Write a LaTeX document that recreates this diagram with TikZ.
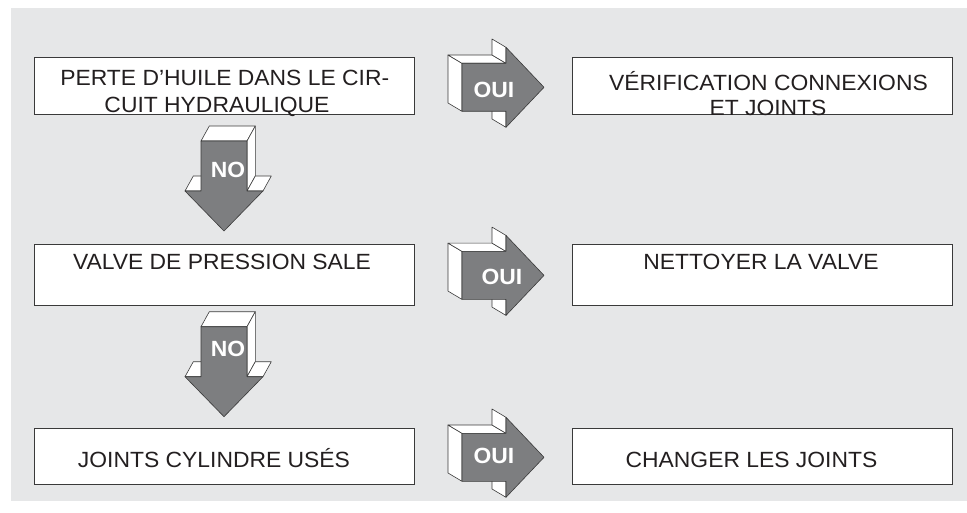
\documentclass[tikz,border=0pt]{standalone}
\usepackage{fontspec}
\setmainfont{Liberation Sans}[FakeStretch=1.04]
\definecolor{bg}{HTML}{E6E7E8}
\definecolor{arr}{HTML}{7D7E80}
\definecolor{edge}{HTML}{3A3A3A}
\definecolor{ink}{HTML}{231F20}
\tikzset{
  box/.style={draw=edge, line width=1pt, fill=white, inner sep=0pt, outer sep=0pt},
  lbl/.style={font=\fontsize{22}{24}\selectfont, text=ink, anchor=base, inner sep=0pt},
  alab/.style={font=\fontsize{22}{22}\selectfont\bfseries, text=white, anchor=base, inner sep=0pt},
  nlab/.style={font=\fontsize{22}{22}\selectfont\bfseries, text=white, anchor=base, inner sep=0pt},
  face/.style={fill=white, draw=edge, line width=0.6pt, line join=round},
  front/.style={fill=arr, draw=edge, line width=0.6pt, line join=round},
  ouiarrow/.pic={
    \draw[face] (0,-24) -- (0,24) -- (-14,15.7) -- (-14,-32.3) -- cycle;
    \draw[face] (0,-24) -- (44,-24) -- (30,-32.3) -- (-14,-32.3) -- cycle;
    \draw[face] (44,-24) -- (44,-40) -- (30,-48.3) -- (30,-32.3) -- cycle;
    \draw[face] (44,24) -- (44,40) -- (30,31.7) -- (30,15.7) -- cycle;
    \draw[front] (0,-24) -- (44,-24) -- (44,-40) -- (82,0) -- (44,40) -- (44,24) -- (0,24) -- cycle;
  },
  noarrow/.pic={
    \draw[face] (-23,-90) -- (23,-90) -- (31.3,-105) -- (-14.7,-105) -- cycle;
    \draw[face] (23,-90) -- (31.3,-105) -- (31.3,-55) -- (23,-40) -- cycle;
    \draw[face] (-39,-40) -- (-23,-40) -- (-14.7,-55) -- (-30.7,-55) -- cycle;
    \draw[face] (23,-40) -- (39,-40) -- (47.3,-55) -- (31.3,-55) -- cycle;
    \draw[front] (-23,-90) -- (23,-90) -- (23,-40) -- (39,-40) -- (0,0) -- (-39,-40) -- (-23,-40) -- cycle;
  }
}
\begin{document}
\begin{tikzpicture}[x=1pt,y=-1pt]
\useasboundingbox (0,0) rectangle (967,513);
\fill[bg] (10.5,8) rectangle (967,501);

% boxes
\node[box, minimum width=380pt, minimum height=56.5pt] (b1) at (224,86.25) {};
\node[box, minimum width=380pt, minimum height=57pt] (b2) at (762,86.5) {};
\node[box, minimum width=380pt, minimum height=60pt] (b3) at (224,275) {};
\node[box, minimum width=380pt, minimum height=60pt] (b4) at (762,275) {};
\node[box, minimum width=380pt, minimum height=56pt] (b5) at (224,456) {};
\node[box, minimum width=380pt, minimum height=56pt] (b6) at (762,456) {};

% 3D block arrows
\pic at (462,87.3) {ouiarrow};
\pic at (462,275.4) {ouiarrow};
\pic at (462,457.3) {ouiarrow};
\pic at (224,231) {noarrow};
\pic at (224,416.7) {noarrow};

% texts
\node[lbl] (t1a) at (224.8,86) {PERTE D’HUILE DANS LE CIR-};
\node[lbl] (t1b) at (217,112.7) {CUIT HYDRAULIQUE};
\node[lbl] (t2a) at (768.5,90.7) {VÉRIFICATION CONNEXIONS};
\node[lbl] (t2b) at (768,115.7) {ET JOINTS};
\node[lbl] (t3) at (222,270) {VALVE DE PRESSION SALE};
\node[lbl] (t4) at (761,270) {NETTOYER LA VALVE};
\node[lbl] (t5) at (214,467.3) {JOINTS CYLINDRE USÉS};
\node[lbl] (t6) at (751.5,467) {CHANGER LES JOINTS};

\node[alab] (o1) at (494,97.5) {OUI};
\node[alab] (o2) at (502,285) {OUI};
\node[alab] (o3) at (494,463) {OUI};
\node[nlab] (n1) at (228,177.5) {NO};
\node[nlab] (n2) at (228,356.5) {NO};
\end{tikzpicture}
\end{document}
